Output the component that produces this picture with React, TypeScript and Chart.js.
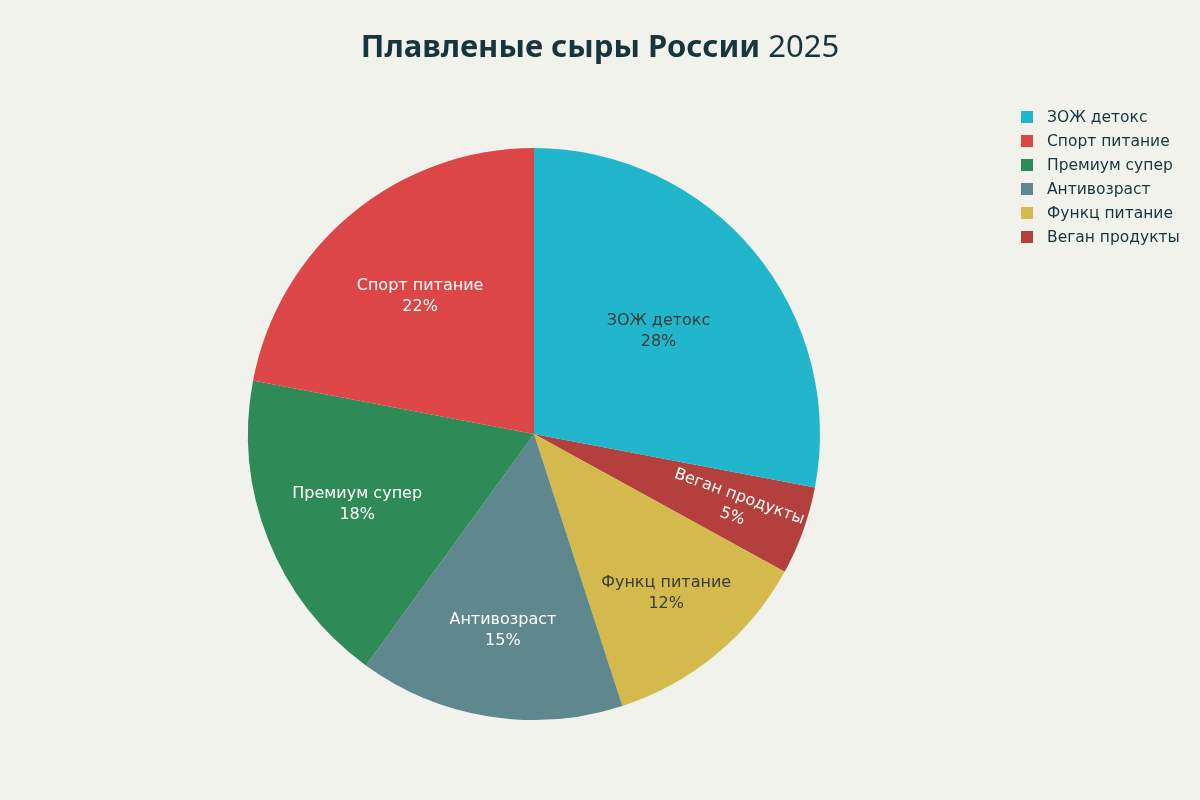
import React, { useEffect, useRef } from "react";
import { Chart, registerables, Plugin } from "chart.js";

Chart.register(...registerables);

// legend order (Plotly draws these counter-clockwise)
const categories = ["ЗОЖ детокс", "Спорт питание", "Премиум супер", "Антивозраст", "Функц питание", "Веган продукты"];
const shares = [28, 22, 18, 15, 12, 5];
const sliceColors = ["#22b6cc", "#dc4646", "#2e8b57", "#5e878e", "#d4ba4d", "#b4403e"];
const labelColors = ["#3b3b3b", "#ffffff", "#ffffff", "#ffffff", "#3b3b3b", "#ffffff"];

const TITLE_BOLD = "Плавленые сыры России ";
const TITLE_YEAR = "2025";

const BG = "#f2f2ed";
const TEXT_DARK = "#16353c";

const backgroundPlugin: Plugin<"pie"> = {
  id: "bg",
  beforeDraw(chart) {
    const ctx = chart.ctx;
    ctx.save();
    ctx.fillStyle = BG;
    ctx.fillRect(0, 0, chart.width, chart.height);
    ctx.restore();
  },
};

const titlePlugin: Plugin<"pie"> = {
  id: "mixedTitle",
  afterDraw(chart) {
    const ctx = chart.ctx;
    ctx.save();
    ctx.textBaseline = "middle";
    ctx.fillStyle = TEXT_DARK;
    const boldFont = "bold 31px 'Noto Sans', sans-serif";
    const normalFont = "31px 'Noto Sans', sans-serif";
    ctx.font = boldFont;
    const w1 = ctx.measureText(TITLE_BOLD).width;
    ctx.font = normalFont;
    const w2 = ctx.measureText(TITLE_YEAR).width;
    let x = chart.width / 2 - (w1 + w2) / 2;
    const y = 48;
    ctx.textAlign = "left";
    ctx.font = boldFont;
    ctx.fillText(TITLE_BOLD, x, y);
    x += w1;
    ctx.font = normalFont;
    ctx.fillText(TITLE_YEAR, x, y);
    ctx.restore();
  },
};

// legend in the original category order, top right
const legendPlugin: Plugin<"pie"> = {
  id: "sideLegend",
  afterDraw(chart) {
    const ctx = chart.ctx;
    ctx.save();
    ctx.font = "15.5px 'DejaVu Sans', sans-serif";
    ctx.textBaseline = "middle";
    ctx.textAlign = "left";
    categories.forEach((name, i) => {
      const y = 117 + i * 24;
      ctx.fillStyle = sliceColors[i];
      ctx.fillRect(1021, y - 6, 12, 12);
      ctx.fillStyle = TEXT_DARK;
      ctx.fillText(name, 1047, y + 1);
    });
    ctx.restore();
  },
};

const sliceLabelPlugin: Plugin<"pie"> = {
  id: "sliceLabels",
  afterDatasetsDraw(chart) {
    const ctx = chart.ctx;
    const meta = chart.getDatasetMeta(0);
    const data = chart.data.datasets[0].data as number[];
    const labels = chart.data.labels as string[];
    const colors = (chart.data.datasets[0] as any).labelColors as string[];
    const total = data.reduce((a, b) => a + b, 0);
    ctx.save();
    ctx.font = "16px 'DejaVu Sans', sans-serif";
    ctx.textAlign = "center";
    ctx.textBaseline = "middle";
    meta.data.forEach((el: any, i: number) => {
      const frac = data[i] / total;
      const mid = (el.startAngle + el.endAngle) / 2;
      const f = Math.min(0.75, 0.845 - frac);
      const x = el.x + Math.cos(mid) * el.outerRadius * f;
      const y = el.y + Math.sin(mid) * el.outerRadius * f;
      ctx.save();
      ctx.translate(x, y);
      if (frac < 0.08) {
        let a = mid;
        while (a > Math.PI / 2) a -= Math.PI;
        while (a < -Math.PI / 2) a += Math.PI;
        ctx.rotate(a);
      }
      ctx.fillStyle = colors[i];
      ctx.fillText(labels[i], 0, -10.5);
      ctx.fillText(Math.round(frac * 100) + "%", 0, 10.5);
      ctx.restore();
    });
    ctx.restore();
  },
};

export default function App() {
  const canvasRef = useRef<HTMLCanvasElement | null>(null);
  const chartRef = useRef<Chart<"pie", number[], string> | null>(null);

  useEffect(() => {
    const canvas = canvasRef.current;
    if (!canvas) return;

    if (chartRef.current) {
      chartRef.current.destroy();
    }

    // Chart.js goes clockwise, so feed the slices reversed and start after the first one
    const revLabels = [...categories].reverse();
    const revValues = [...shares].reverse();
    const revColors = [...sliceColors].reverse();
    const revLabelColors = [...labelColors].reverse();
    const total = shares.reduce((a, b) => a + b, 0);

    chartRef.current = new Chart(canvas, {
      type: "pie",
      data: {
        labels: revLabels,
        datasets: [
          {
            data: revValues,
            backgroundColor: revColors,
            borderWidth: 0,
            labelColors: revLabelColors,
          } as any,
        ],
      },
      options: {
        responsive: false,
        animation: false,
        rotation: (shares[0] / total) * 360,
        layout: { padding: { left: 248, right: 380, top: 148, bottom: 80 } },
        plugins: {
          legend: { display: false },
          title: { display: false },
          tooltip: { enabled: false },
        },
      },
      plugins: [backgroundPlugin, sliceLabelPlugin, titlePlugin, legendPlugin],
    });

    return () => {
      if (chartRef.current) {
        chartRef.current.destroy();
        chartRef.current = null;
      }
    };
  }, []);

  return (
    <div style={{ position: "fixed", left: 0, top: 0, width: 1200, height: 800, background: BG }}>
      <canvas ref={canvasRef} width={1200} height={800} style={{ width: 1200, height: 800 }}></canvas>
    </div>
  );
}
